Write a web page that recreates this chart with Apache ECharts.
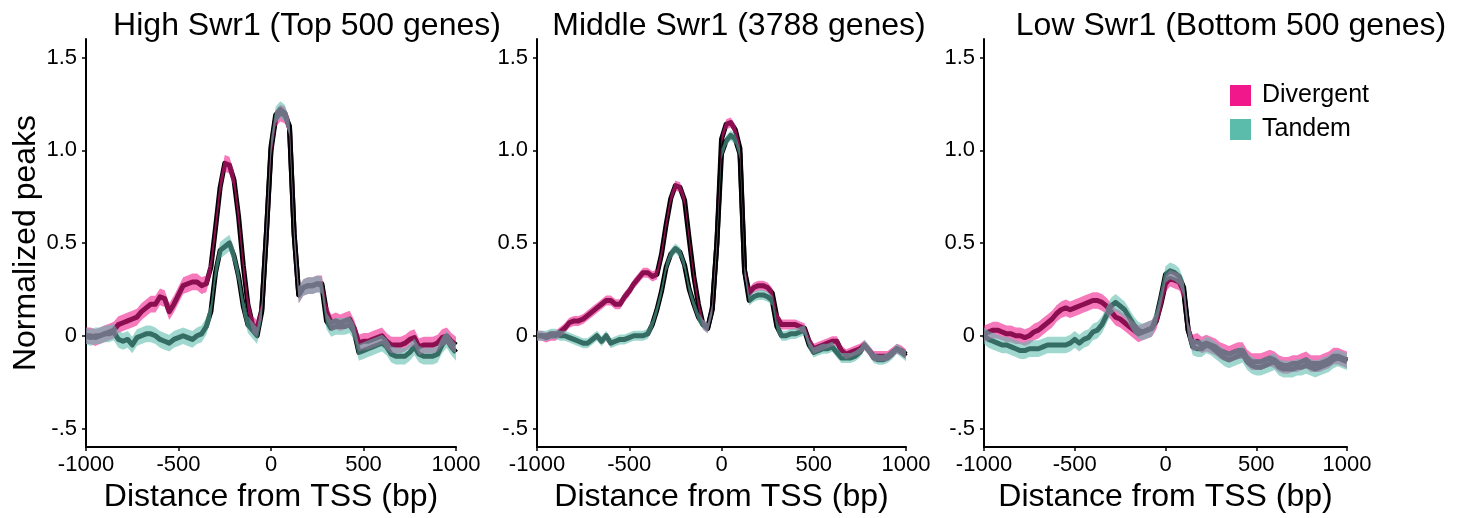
<!DOCTYPE html>
<html>
<head>
<meta charset="utf-8">
<script src="https://cdn.jsdelivr.net/npm/echarts@6/dist/echarts.min.js"></script>
<style>html,body{margin:0;padding:0;background:#fff}#c{width:1463px;height:518px}</style>
</head>
<body>
<div id="c"></div>
<script>
// Distance from TSS (bp), sampled positions
const X_POS = [-1000,-975,-950,-925,-900,-875,-850,-825,-800,-775,
  -750,-725,-700,-675,-650,-625,-600,-575,-550,-525,
  -500,-475,-450,-425,-400,-375,-350,-325,-300,-275,
  -250,-225,-200,-175,-150,-125,-100,-75,-50,-25,
  0,25,50,75,100,125,150,175,200,225,
  250,275,300,325,350,375,400,425,450,475,
  500,525,550,575,600,625,650,675,700,725,
  750,775,800,825,850,875,900,925,950,975,1000];

const PANEL_TITLES = ['High Swr1 (Top 500 genes)', 'Middle Swr1 (3788 genes)', 'Low Swr1 (Bottom 500 genes)'];
const SERIES_NAMES = ['Divergent', 'Tandem'];
const X_TICKS = [-1000, -500, 0, 500, 1000];
const X_TICK_LABELS = ['-1000', '-500', '0', '500', '1000'];
const Y_TICKS = [-0.5, 0, 0.5, 1.0, 1.5];
const Y_TICK_LABELS = ['-.5', '0', '0.5', '1.0', '1.5'];

const HIGH_DIV = [0.00,0.00,-0.01,0.00,0.01,0.02,0.03,0.06,0.07,0.08,
  0.09,0.10,0.13,0.15,0.17,0.17,0.21,0.20,0.13,0.17,
  0.22,0.27,0.28,0.29,0.29,0.27,0.28,0.37,0.58,0.80,
  0.93,0.92,0.84,0.64,0.38,0.17,0.06,0.04,0.14,0.55,
  1.00,1.17,1.20,1.19,1.13,0.55,0.22,0.26,0.27,0.27,
  0.28,0.28,0.13,0.07,0.08,0.07,0.08,0.09,0.04,-0.04,
  -0.03,-0.03,-0.02,-0.01,0.00,-0.03,-0.05,-0.05,-0.05,-0.04,
  -0.02,-0.01,-0.06,-0.05,-0.05,-0.05,-0.04,-0.01,0.00,-0.03,-0.05];
const HIGH_TAN = [0.00,-0.01,0.00,0.00,0.01,0.01,0.02,-0.02,-0.03,-0.02,
  -0.05,-0.01,0.00,0.01,0.01,0.00,-0.02,-0.03,-0.04,-0.02,
  -0.01,0.00,-0.01,-0.02,0.00,0.01,0.05,0.13,0.34,0.46,
  0.48,0.50,0.43,0.32,0.16,0.06,0.03,0.00,0.13,0.55,
  1.02,1.19,1.22,1.20,1.12,0.55,0.22,0.26,0.27,0.27,
  0.28,0.27,0.08,0.04,0.05,0.05,0.05,0.06,0.02,-0.09,
  -0.08,-0.07,-0.06,-0.05,-0.04,-0.06,-0.10,-0.11,-0.11,-0.11,
  -0.09,-0.06,-0.10,-0.11,-0.11,-0.11,-0.10,-0.05,-0.02,-0.06,-0.09];
const MID_DIV = [0.00,0.00,-0.01,0.00,0.00,0.02,0.04,0.07,0.08,0.08,
  0.09,0.11,0.13,0.15,0.17,0.19,0.19,0.17,0.17,0.21,
  0.24,0.28,0.31,0.34,0.34,0.32,0.33,0.44,0.60,0.74,
  0.81,0.80,0.73,0.52,0.32,0.17,0.06,0.04,0.15,0.50,
  1.06,1.14,1.15,1.11,1.01,0.35,0.23,0.26,0.27,0.27,
  0.26,0.23,0.10,0.06,0.06,0.06,0.06,0.05,0.04,-0.03,
  -0.07,-0.06,-0.05,-0.04,-0.03,-0.03,-0.08,-0.10,-0.09,-0.08,
  -0.07,-0.05,-0.08,-0.11,-0.11,-0.11,-0.11,-0.09,-0.07,-0.08,-0.10];
const MID_TAN = [0.00,0.00,0.00,0.01,0.01,0.00,0.00,-0.01,-0.02,-0.03,
  -0.04,-0.04,-0.02,0.00,-0.03,0.00,-0.04,-0.03,-0.02,-0.02,
  -0.01,0.00,0.00,0.00,0.01,0.06,0.14,0.24,0.37,0.44,
  0.47,0.45,0.38,0.25,0.17,0.10,0.06,0.04,0.14,0.50,
  0.98,1.05,1.08,1.06,0.98,0.35,0.19,0.21,0.22,0.22,
  0.21,0.19,0.05,0.00,0.00,0.01,0.01,0.02,0.03,-0.05,
  -0.09,-0.08,-0.07,-0.07,-0.06,-0.09,-0.12,-0.12,-0.12,-0.11,
  -0.09,-0.05,-0.08,-0.12,-0.13,-0.13,-0.12,-0.10,-0.07,-0.09,-0.11];
const LOW_DIV = [0.01,0.02,0.03,0.03,0.02,0.01,0.01,0.00,0.00,-0.01,
  0.00,0.02,0.03,0.05,0.07,0.09,0.12,0.14,0.15,0.14,
  0.15,0.16,0.17,0.18,0.19,0.19,0.18,0.16,0.13,0.10,
  0.09,0.07,0.05,0.03,0.01,0.02,0.03,0.04,0.08,0.17,
  0.28,0.31,0.30,0.29,0.24,0.03,-0.04,-0.03,-0.05,-0.04,
  -0.05,-0.06,-0.08,-0.09,-0.10,-0.09,-0.08,-0.08,-0.12,-0.14,
  -0.14,-0.14,-0.13,-0.12,-0.13,-0.15,-0.16,-0.16,-0.15,-0.15,
  -0.14,-0.13,-0.15,-0.15,-0.15,-0.14,-0.13,-0.11,-0.11,-0.12,-0.13];
const LOW_TAN = [0.00,-0.02,-0.03,-0.04,-0.05,-0.05,-0.06,-0.07,-0.08,-0.08,
  -0.07,-0.07,-0.07,-0.06,-0.05,-0.05,-0.05,-0.05,-0.05,-0.04,
  -0.02,-0.04,-0.02,-0.01,0.02,0.03,0.06,0.11,0.16,0.18,
  0.16,0.14,0.10,0.06,0.03,0.02,0.03,0.04,0.10,0.21,
  0.33,0.35,0.34,0.32,0.26,0.03,-0.06,-0.07,-0.07,-0.05,
  -0.06,-0.08,-0.10,-0.12,-0.13,-0.12,-0.11,-0.10,-0.14,-0.16,
  -0.17,-0.17,-0.16,-0.15,-0.14,-0.17,-0.18,-0.18,-0.18,-0.17,
  -0.17,-0.16,-0.17,-0.18,-0.17,-0.16,-0.15,-0.13,-0.12,-0.13,-0.14];

// band half-widths (standard error): [divergent, tandem]
const HIGH_SE = [0.045, 0.045];
const MID_SE = [0.027, 0.027];
const LOW_SE = [0.045, 0.045];

const PANELS = [
  {div: HIGH_DIV, tan: HIGH_TAN, se: HIGH_SE},
  {div: MID_DIV, tan: MID_TAN, se: MID_SE},
  {div: LOW_DIV, tan: LOW_TAN, se: LOW_SE}
];

const FONT = '"Liberation Sans", Arial, sans-serif';
const GRIDS = [
  {left: 86, width: 370, top: 39, height: 408},
  {left: 537, width: 369, top: 39, height: 408},
  {left: 984, width: 363, top: 39, height: 408}
];
const TITLE_X = [302, 734, 1226];
const COLORS = {div: '#f0188a', tan: '#5bbcac', divBand: 'rgba(240,24,138,0.58)', tanBand: 'rgba(91,188,172,0.58)'};

function bandSeries(name, idx, mean, se, fill, legendColor, z) {
  return {
    type: 'custom', name: name, xAxisIndex: idx, yAxisIndex: idx, z: z,
    itemStyle: {color: legendColor},
    data: [[X_POS[0], mean[0]]],
    silent: true,
    renderItem: function (params, api) {
      if (params.dataIndex !== 0) return;
      const pts = [];
      for (let i = 0; i < X_POS.length; i++) pts.push(api.coord([X_POS[i], mean[i] + se]));
      for (let i = X_POS.length - 1; i >= 0; i--) pts.push(api.coord([X_POS[i], mean[i] - se]));
      return {type: 'polygon', shape: {points: pts}, style: {fill: fill, stroke: null}};
    }
  };
}
function lineSeries(idx, mean, z) {
  return {
    type: 'line', xAxisIndex: idx, yAxisIndex: idx, z: z,
    showSymbol: false, symbol: 'none', silent: true,
    lineStyle: {color: '#000', width: 5, join: 'round'},
    data: X_POS.map((x, i) => [x, mean[i]])
  };
}

const xAxes = [], yAxes = [], series = [], titles = [];
PANELS.forEach((p, i) => {
  xAxes.push({
    type: 'value', gridIndex: i, min: -1000, max: 1000, interval: 500,
    name: 'Distance from TSS (bp)', nameLocation: 'middle', nameGap: 31,
    nameTextStyle: {fontFamily: FONT, fontSize: 32, color: '#000'},
    axisLine: {show: true, onZero: false, lineStyle: {color: '#000', width: 2}},
    axisTick: {show: true, length: 4, lineStyle: {color: '#000', width: 1.5}},
    axisLabel: {fontFamily: FONT, fontSize: 22, color: '#000', margin: 7,
      formatter: v => X_TICK_LABELS[X_TICKS.indexOf(v)] ?? ''},
    splitLine: {show: false}
  });
  yAxes.push({
    type: 'value', gridIndex: i, min: -0.6, max: 1.6,
    name: i === 0 ? 'Normalized peaks' : '', nameLocation: 'middle', nameGap: 41, nameRotate: 90,
    nameTextStyle: {fontFamily: FONT, fontSize: 32, color: '#000'},
    axisLine: {show: true, onZero: false, lineStyle: {color: '#000', width: 2}},
    axisTick: {show: true, length: 4, customValues: Y_TICKS, lineStyle: {color: '#000', width: 1.5}},
    axisLabel: {fontFamily: FONT, fontSize: 22, color: '#000', margin: 9, customValues: Y_TICKS,
      formatter: v => Y_TICK_LABELS[Y_TICKS.findIndex(t => Math.abs(t - v) < 1e-9)] ?? ''},
    splitLine: {show: false}
  });
  titles.push({text: PANEL_TITLES[i], left: TITLE_X[i], top: 5, textAlign: 'center',
    textStyle: {fontFamily: FONT, fontSize: 32, fontWeight: 'normal', color: '#000'}});
  series.push(lineSeries(i, p.tan, 2));
  series.push(lineSeries(i, p.div, 2));
  series.push(bandSeries(SERIES_NAMES[0], i, p.div, p.se[0], COLORS.divBand, COLORS.div, 3));
  series.push(bandSeries(SERIES_NAMES[1], i, p.tan, p.se[1], COLORS.tanBand, COLORS.tan, 4));
});

const chart = echarts.init(document.getElementById('c'), null, {renderer: 'canvas'});
chart.setOption({
  animation: false,
  backgroundColor: '#fff',
  title: titles,
  grid: GRIDS,
  xAxis: xAxes,
  yAxis: yAxes,
  legend: {
    data: SERIES_NAMES, orient: 'vertical', left: 1230, top: 83, padding: 0,
    icon: 'rect', itemWidth: 21, itemHeight: 21, itemGap: 9,
    selectedMode: false,
    textStyle: {fontFamily: FONT, fontSize: 25, lineHeight: 21, color: '#000', padding: [0, 0, 0, 6]}
  },
  series: series
});
</script>
</body>
</html>
